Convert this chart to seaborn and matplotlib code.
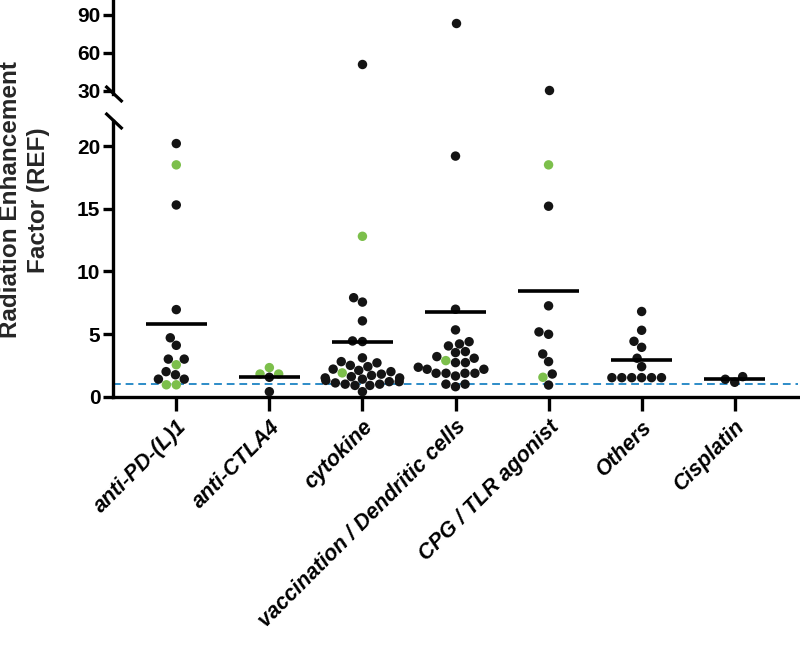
import numpy as np
import pandas as pd
import matplotlib
matplotlib.use("Agg")
import matplotlib.pyplot as plt
from matplotlib.lines import Line2D
import seaborn as sns

# ---------------- data ----------------
categories = ["anti-PD-(L)1", "anti-CTLA4", "cytokine",
              "vaccination / Dendritic cells", "CPG / TLR agonist",
              "Others", "Cisplatin"]

anti_pd_l1 = [20.2, 18.5, 15.3, 6.95, 4.7, 4.1, 3.0, 3.0, 2.55, 2.0, 1.75, 1.4, 1.4, 0.95, 0.95]
anti_pd_l1_green = [0, 1, 0, 0, 0, 0, 0, 0, 1, 0, 0, 0, 0, 1, 1]

anti_ctla4 = [2.32, 1.81, 1.81, 1.55, 0.40]
anti_ctla4_green = [1, 1, 1, 0, 0]

cytokine = [51.0, 12.8, 7.9, 7.55, 6.05, 4.45, 4.4, 3.1, 2.8, 2.7, 2.5, 2.4, 2.2, 2.1,
            2.0, 1.9, 1.8, 1.7, 1.6, 1.5, 1.5, 1.4, 1.3, 1.2, 1.2, 1.1, 1.0, 1.0, 0.9, 0.9, 0.4]
cytokine_green = [0, 1, 0, 0, 0, 0, 0, 0, 0, 0, 0, 0, 0, 0,
                  0, 1, 0, 0, 0, 0, 0, 0, 0, 0, 0, 0, 0, 0, 0, 0, 0]

vaccination_dc = [84.0, 19.2, 6.98, 5.33, 4.39, 4.21, 4.05, 3.6, 3.52, 3.2, 3.07, 2.88, 2.72,
                  2.72, 2.35, 2.19, 2.19, 1.87, 1.87, 1.87, 1.87, 1.65, 1.0, 1.0, 0.8]
vaccination_dc_green = [0, 0, 0, 0, 0, 0, 0, 0, 0, 0, 0, 1, 0,
                        0, 0, 0, 0, 0, 0, 0, 0, 0, 0, 0, 0]

cpg_tlr = [31.0, 18.5, 15.2, 7.25, 5.17, 4.98, 3.41, 2.8, 1.81, 1.55, 0.93]
cpg_tlr_green = [0, 1, 0, 0, 0, 0, 0, 0, 0, 1, 0]

others = [6.8, 5.3, 4.42, 3.94, 3.07, 2.4, 1.52, 1.52, 1.52, 1.52, 1.52, 1.52]
others_green = [0] * len(others)

cisplatin = [1.6, 1.39, 1.15]
cisplatin_green = [0, 0, 0]

reference_line = 1.0
top_ticks = [30, 60, 90]
bottom_ticks = [0, 5, 10, 15, 20]

series = [anti_pd_l1, anti_ctla4, cytokine, vaccination_dc, cpg_tlr, others, cisplatin]
greens = [anti_pd_l1_green, anti_ctla4_green, cytokine_green, vaccination_dc_green,
          cpg_tlr_green, others_green, cisplatin_green]

rows = []
for cat, vals, gr in zip(categories, series, greens):
    for v, g in zip(vals, gr):
        rows.append({"category": cat, "REF": v, "group": "green" if g else "black"})
df = pd.DataFrame(rows)

# ---------------- style ----------------
sns.set_theme(style="ticks")
plt.rcParams["font.family"] = ["Liberation Sans", "DejaVu Sans"]
plt.rcParams["font.weight"] = "bold"

BLACK = "#141414"
GREEN = "#7cbf4b"
palette = {"black": BLACK, "green": GREEN}

fig = plt.figure(figsize=(8.0, 6.51), dpi=100)
W, H = 800, 651
left = 113 / W
width = (798 - 113) / W
ax_bot = fig.add_axes([left, 1 - 396.7 / H, width, (396.7 - 121) / H])
ax_top = fig.add_axes([left, 1 - 94 / H, width, 94 / H])

top_lim = (27.6, 101.8)
bot_lim = (0, 22.0)

for ax, lim in ((ax_bot, bot_lim), (ax_top, top_lim)):
    sub = df[(df["REF"] >= lim[0]) & (df["REF"] <= lim[1])]
    sns.swarmplot(data=sub, x="category", y="REF", hue="group", order=categories,
                  hue_order=["black", "green"], palette=palette, size=6.8,
                  linewidth=0, legend=False, ax=ax, clip_on=False, zorder=3)
    ax.set_ylim(*lim)
    ax.set_xlim(-0.68, len(categories) - 1 + 0.68)
    ax.set_xlabel("")
    ax.set_ylabel("")
    ax.set_facecolor("none")
    for s in ("top", "right"):
        ax.spines[s].set_visible(False)
    ax.spines["left"].set_linewidth(2.4)
    ax.spines["left"].set_color("black")
    ax.tick_params(axis="y", length=7, width=2.4, color="black",
                   labelsize=15, pad=2, labelcolor="black")

# means
means = df.groupby("category")["REF"].mean().reindex(categories)
ax_bot.hlines(means.values, np.arange(len(categories)) - 0.33,
              np.arange(len(categories)) + 0.33, color="black", lw=2.6, zorder=4)

# reference line
ax_bot.axhline(reference_line, color="#2d8cc8", lw=1.4, ls=(0, (4, 2.5)), zorder=2)

# axes ticks
ax_bot.set_yticks(bottom_ticks)
ax_top.set_yticks(top_ticks)
ax_top.spines["bottom"].set_visible(False)
ax_top.set_xticks([])
ax_bot.spines["bottom"].set_linewidth(2.4)
ax_bot.spines["bottom"].set_color("black")
ax_bot.set_xticks(range(len(categories)))
ax_bot.set_xticklabels(categories, rotation=45, ha="right", rotation_mode="anchor",
                       fontsize=15.5, fontweight="bold", fontstyle="italic")
ax_bot.tick_params(axis="x", length=10, width=2.4, color="black", pad=4, labelcolor="black")
for lab in ax_bot.get_yticklabels() + ax_top.get_yticklabels():
    lab.set_fontweight("bold")

# break marks (figure pixel coordinates -> fraction)
for (x0, y0, x1, y1) in ((105.5, 86, 122.5, 102), (105.5, 113, 122.5, 129)):
    fig.add_artist(Line2D([x0 / W, x1 / W], [1 - y0 / H, 1 - y1 / H],
                          transform=fig.transFigure, color="black", lw=2.3,
                          solid_capstyle="butt", zorder=10))

fig.text(0.031, 0.693, "Radiation Enhancement\nFactor (REF)", rotation=90,
         ha="center", va="center", multialignment="center", fontsize=17.5,
         fontweight="bold", linespacing=1.3)

fig.savefig("out.png", dpi=100, facecolor="white")
